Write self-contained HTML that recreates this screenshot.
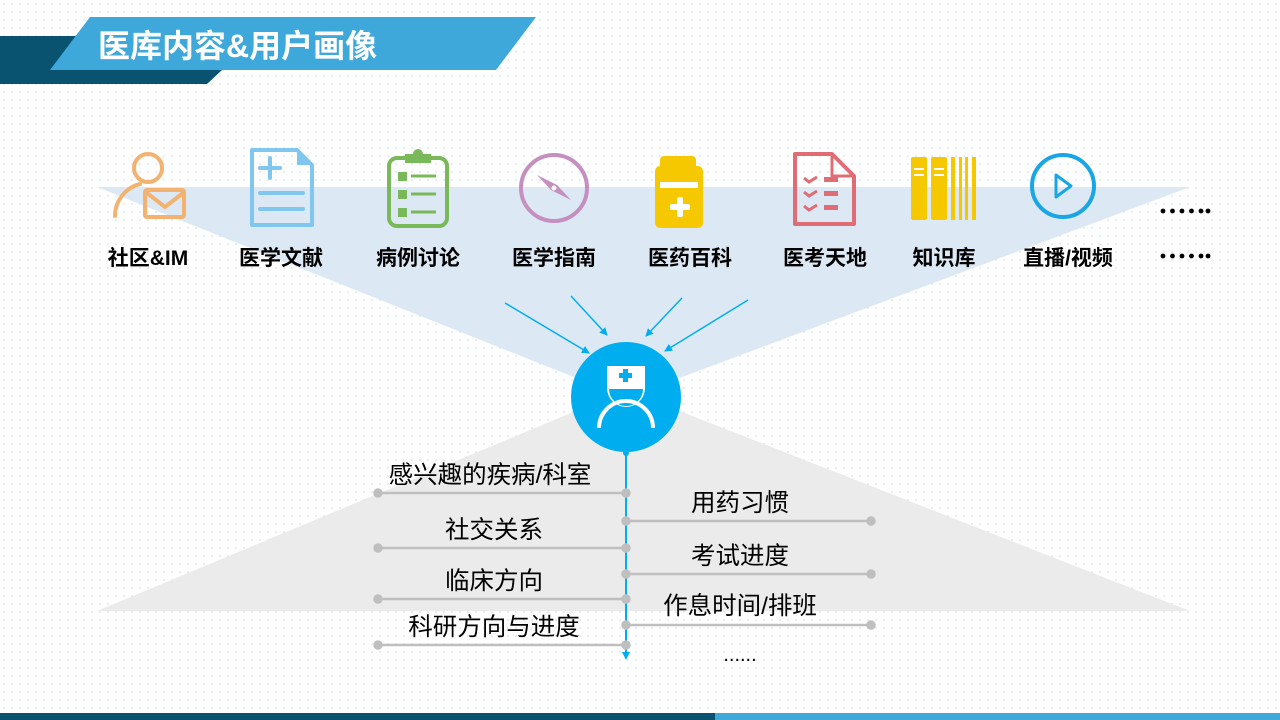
<!DOCTYPE html>
<html><head><meta charset="utf-8"><style>
html,body{margin:0;padding:0}
body{width:1280px;height:720px;position:relative;overflow:hidden;background:#fff;
background-image:radial-gradient(circle,#dde8f0 0.8px,transparent 1px);background-size:8px 8px;
font-family:"Liberation Sans","Noto Sans CJK SC",sans-serif}
.t{position:absolute;white-space:nowrap;color:#000}
.lb{font-weight:bold;font-size:21px;transform:translateX(-50%);top:242px}
.it{font-size:24.5px;transform:translateX(-50%)}
</style></head><body>
<svg width="1280" height="720" style="position:absolute;left:0;top:0">
<defs><marker id="ah" markerWidth="8" markerHeight="8" refX="7" refY="4" orient="auto" markerUnits="userSpaceOnUse"><path d="M0,0 L8,4 L0,8 z" fill="#00aeef"/></marker></defs>
<polygon points="97,187 1190,187 626,398" fill="#dce9f5"/>
<polygon points="97,611 1190,611 626,390" fill="#ebebeb"/>
<polygon points="0,36 205,36 205,84 0,84" fill="#0a5370"/>
<polygon points="205,70 222,70 207,84 200,84" fill="#0a5370"/>
<polygon points="50,70 90,17 536,17 496,70" fill="#3ea8da"/>
<rect x="0" y="713" width="715" height="7" fill="#0a5370"/>
<rect x="715" y="713" width="565" height="7" fill="#3ea8da"/>
<g stroke="#00aeef" stroke-width="1.5" marker-end="url(#ah)">
<line x1="505" y1="303" x2="589" y2="353"/>
<line x1="571" y1="296" x2="607" y2="335"/>
<line x1="682" y1="298" x2="646" y2="336"/>
<line x1="748" y1="300" x2="665" y2="351"/>
</g>
<circle cx="626" cy="397" r="55" fill="#00aeef"/>
<g fill="none" stroke="#fff" stroke-width="4">
<path d="M607,366 h38 v22 a19,19 0 0 1 -38,0 z" fill="#fff" stroke="none"/>
<path d="M609,389 a17,17 0 0 0 34,0 z" fill="#00aeef" stroke="none"/>
<path d="M599,428 a27,27 0 0 1 54,0"/>
</g>
<rect x="623" y="369" width="5" height="13" fill="#00aeef"/><rect x="619" y="373" width="13" height="5" fill="#00aeef"/>
<line x1="626" y1="452" x2="626" y2="654" stroke="#00aeef" stroke-width="2"/>
<path d="M622,652 L630,652 L626,660 z" fill="#00aeef"/>
<circle cx="626" cy="453" r="3" fill="#00aeef"/>
<g stroke="#bfbfbf" stroke-width="2.5" fill="#bfbfbf">
<line x1="378" y1="493" x2="626" y2="493"/><circle cx="378" cy="493" r="3.5"/><circle cx="626" cy="493" r="3.5"/>
<line x1="378" y1="548" x2="626" y2="548"/><circle cx="378" cy="548" r="3.5"/><circle cx="626" cy="548" r="3.5"/>
<line x1="378" y1="599" x2="626" y2="599"/><circle cx="378" cy="599" r="3.5"/><circle cx="626" cy="599" r="3.5"/>
<line x1="378" y1="645" x2="626" y2="645"/><circle cx="378" cy="645" r="3.5"/><circle cx="626" cy="645" r="3.5"/>
<line x1="626" y1="521" x2="871" y2="521"/><circle cx="626" cy="521" r="3.5"/><circle cx="871" cy="521" r="3.5"/>
<line x1="626" y1="574" x2="871" y2="574"/><circle cx="626" cy="574" r="3.5"/><circle cx="871" cy="574" r="3.5"/>
<line x1="626" y1="625" x2="871" y2="625"/><circle cx="626" cy="625" r="3.5"/><circle cx="871" cy="625" r="3.5"/>
</g>
<g fill="#000">
<circle cx="1163" cy="211" r="2.4"/><circle cx="1172.5" cy="211" r="2.4"/><circle cx="1182" cy="211" r="2.4"/><circle cx="1191.5" cy="211" r="2.4"/><circle cx="1201" cy="211" r="2.4"/><circle cx="1208" cy="211" r="2.4"/>
<circle cx="1163" cy="256" r="2.4"/><circle cx="1172.5" cy="256" r="2.4"/><circle cx="1182" cy="256" r="2.4"/><circle cx="1191.5" cy="256" r="2.4"/><circle cx="1201" cy="256" r="2.4"/><circle cx="1208" cy="256" r="2.4"/>
</g>
<g fill="none" stroke="#f3b26f" stroke-width="4" stroke-linecap="round">
<circle cx="148" cy="168" r="14"/>
<path d="M115,216 a33,33 0 0 1 25,-32"/>
<rect x="145" y="190" width="39" height="27" rx="2"/>
<path d="M147,193 l18,14 l18,-14"/>
</g>
<g fill="none" stroke="#7fc7ee" stroke-width="4">
<path d="M252,150 h45 l15,15 v60 h-60 z" stroke-linejoin="round"/>
</g>
<path d="M297,150 l15,15 h-15 z" fill="#7fc7ee"/>
<g stroke="#7fc7ee" stroke-width="4" stroke-linecap="round"><line x1="260" y1="168" x2="280" y2="168"/><line x1="270" y1="158" x2="270" y2="178"/><line x1="260" y1="193" x2="303" y2="193"/><line x1="260" y1="209" x2="303" y2="209"/></g>
<rect x="389" y="158" width="58" height="68" rx="8" fill="none" stroke="#7ab95a" stroke-width="4"/>
<path d="M405,163 v-9 h8 a5,5 0 0 1 10,0 h8 v9 z" fill="#7ab95a"/>
<g fill="#7ab95a"><rect x="398" y="172" width="9" height="9"/><rect x="398" y="190" width="9" height="9"/><rect x="398" y="208" width="9" height="9"/></g>
<g stroke="#7ab95a" stroke-width="3"><line x1="411" y1="176" x2="436" y2="176"/><line x1="411" y1="194" x2="436" y2="194"/><line x1="411" y1="212" x2="436" y2="212"/></g>
<circle cx="554" cy="188" r="33" fill="none" stroke="#c58fc0" stroke-width="4"/>
<path d="M537,175 l20,10 l14,15 l-20,-10 z" fill="#c58fc0"/><circle cx="554" cy="188" r="2.5" fill="#fff"/>
<rect x="660" y="156" width="36" height="14" rx="4" fill="#f5c800"/>
<rect x="655" y="166" width="48" height="62" rx="5" fill="#f5c800"/>
<rect x="660" y="182" width="38" height="6" fill="#fff"/>
<rect x="677" y="197" width="6" height="20" rx="2" fill="#fff"/><rect x="670" y="204" width="20" height="6" rx="2" fill="#fff"/>
<path d="M795,154 h37 l22,22 v48 h-59 z" fill="none" stroke="#e06d76" stroke-width="4" stroke-linejoin="round"/>
<path d="M832,154 v22 h22" fill="none" stroke="#e06d76" stroke-width="3"/>
<g fill="none" stroke="#e06d76" stroke-width="3"><path d="M804,178 l5,4 l8,-5"/><path d="M804,192 l5,4 l8,-5"/><path d="M804,206 l5,4 l8,-5"/></g>
<g fill="#e06d76"><rect x="824" y="177" width="14" height="5"/><rect x="824" y="191" width="14" height="5"/><rect x="824" y="205" width="14" height="5"/></g>
<g fill="#f5c800"><rect x="911" y="157" width="16" height="63" rx="2"/><rect x="931" y="157" width="16" height="63" rx="2"/>
<rect x="951" y="157" width="4" height="63"/><rect x="959" y="157" width="3" height="63"/><rect x="965" y="157" width="3" height="63"/><rect x="972" y="157" width="4" height="63"/></g>
<g fill="#fff"><rect x="914" y="168" width="10" height="2"/><rect x="914" y="174" width="10" height="2"/><rect x="934" y="168" width="10" height="2"/><rect x="934" y="174" width="10" height="2"/></g>
<circle cx="1063" cy="186" r="31" fill="none" stroke="#1aa6e4" stroke-width="4"/>
<path d="M1056,175 l15,11 l-15,11 z" fill="none" stroke="#1aa6e4" stroke-width="3" stroke-linejoin="round"/>
</svg>
<div class="t" style="left:98px;top:21px;font-size:32px;font-weight:bold;color:#fff">医库内容&amp;用户画像</div>
<div class="t lb" style="left:148px">社区&amp;IM</div>
<div class="t lb" style="left:281px">医学文献</div>
<div class="t lb" style="left:418px">病例讨论</div>
<div class="t lb" style="left:554px">医学指南</div>
<div class="t lb" style="left:690px">医药百科</div>
<div class="t lb" style="left:825px">医考天地</div>
<div class="t lb" style="left:944px">知识库</div>
<div class="t lb" style="left:1068px">直播/视频</div>
<div class="t it" style="left:490px;top:456px">感兴趣的疾病/科室</div>
<div class="t it" style="left:494px;top:511px">社交关系</div>
<div class="t it" style="left:494px;top:562px">临床方向</div>
<div class="t it" style="left:494px;top:608px">科研方向与进度</div>
<div class="t it" style="left:740px;top:484px">用药习惯</div>
<div class="t it" style="left:740px;top:537px">考试进度</div>
<div class="t it" style="left:740px;top:587px">作息时间/排班</div>
<div class="t it" style="left:740px;top:644px;font-size:20px">......</div>
</body></html>
